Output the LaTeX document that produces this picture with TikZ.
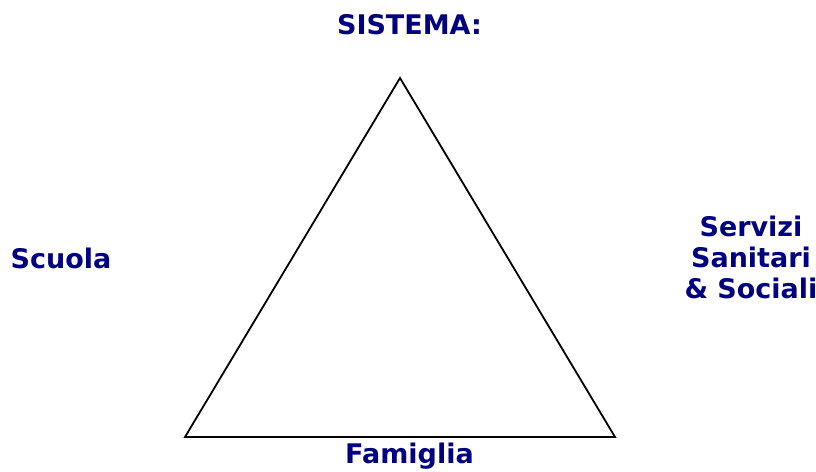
\documentclass[tikz,border=0pt]{standalone}
\usepackage{fontspec}
\setmainfont{DejaVu Sans}
\definecolor{navy}{HTML}{000080}
\begin{document}
\begin{tikzpicture}[x=1pt,y=-1pt,
  lbl/.style={font=\bfseries\fontsize{27}{31}\selectfont,text=navy,inner sep=0pt,anchor=base,align=center},
  tri/.style={draw=black,line width=1.8pt,line join=miter}]
\useasboundingbox (0,0) rectangle (816,471);
\coordinate (top) at (400,78);
\coordinate (bl) at (185,437);
\coordinate (br) at (615,437);
\draw[tri] (top) -- (bl) -- (br) -- cycle;
\node[lbl] (sistema) at (409.5,34) {SISTEMA:};
\node[lbl] (scuola) at (61,268) {Scuola};
\node[lbl] (servizi) at (751,298) {Servizi\\Sanitari\\\& Sociali};
\node[lbl] (famiglia) at (409.5,463) {Famiglia};
\end{tikzpicture}
\end{document}
